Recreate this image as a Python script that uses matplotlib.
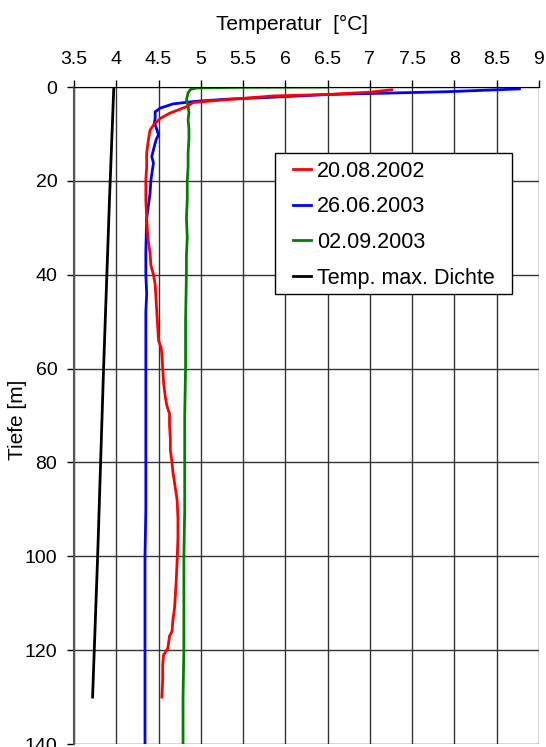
import numpy as np
import matplotlib.pyplot as plt
from matplotlib.patches import Rectangle

plt.rcParams['font.family'] = ['Liberation Sans', 'DejaVu Sans']

# Temperaturprofile (Tiefe in m, Temperatur in °C)
red_depth = [0.6, 1.1, 1.6, 1.9, 2.8, 3.3, 4.2, 5.6, 6.7, 8.1, 9.2, 11.3, 14.0, 17, 19.8, 24,
             28, 31, 33, 35.4, 38, 40, 42, 45, 48, 51, 54, 55.5, 57, 60, 63, 66, 68, 69.6,
             72, 75, 77.4, 80, 82, 84.4, 88, 92, 96, 101, 105, 108, 111, 113.6, 116, 117,
             119.6, 120.5, 121, 123, 126, 130]
red_temp = [7.26, 7.00, 6.49, 5.86, 5.23, 4.91, 4.83, 4.63, 4.52, 4.44, 4.40, 4.38, 4.36,
            4.36, 4.35, 4.35, 4.36, 4.37, 4.38, 4.40, 4.41, 4.44, 4.46, 4.47, 4.48, 4.49,
            4.50, 4.53, 4.54, 4.55, 4.56, 4.58, 4.60, 4.63, 4.63, 4.64, 4.64, 4.66, 4.67,
            4.69, 4.72, 4.73, 4.73, 4.72, 4.71, 4.70, 4.69, 4.67, 4.66, 4.63, 4.61, 4.58,
            4.56, 4.55, 4.55, 4.54]

blue_depth = [0.4, 1.0, 1.6, 2.2, 2.6, 3.1, 3.6, 4.5, 5.3, 6.7, 7.7, 8.5, 10.2, 11.3, 13.4,
              14.8, 16.2, 19.8, 22.6, 28, 35, 40, 44, 48, 60, 70, 80, 90, 100, 110, 120,
              130, 140]
blue_temp = [8.77, 7.91, 6.49, 5.82, 5.30, 4.91, 4.67, 4.52, 4.46, 4.46, 4.45, 4.47, 4.50,
             4.47, 4.44, 4.42, 4.44, 4.41, 4.40, 4.36, 4.35, 4.35, 4.36, 4.35, 4.35, 4.35,
             4.35, 4.35, 4.34, 4.34, 4.34, 4.34, 4.34]

green_depth = [0.0, 0.05, 0.2, 0.5, 1.2, 2.0, 2.8, 4.0, 5.5, 7.0, 9.0, 11, 14, 17, 20, 24,
               28, 32, 36, 40, 50, 60, 70, 80, 90, 100, 110, 120, 130, 140]
green_temp = [6.50, 5.50, 4.95, 4.88, 4.85, 4.84, 4.83, 4.85, 4.86, 4.85, 4.86, 4.86, 4.85,
              4.85, 4.84, 4.84, 4.83, 4.84, 4.83, 4.83, 4.82, 4.82, 4.81, 4.81, 4.81, 4.80,
              4.80, 4.80, 4.79, 4.79]

# Temperatur der max. Dichte
tmd_depth = [0.5, 24, 60, 100, 130]
tmd_temp = [3.97, 3.92, 3.85, 3.78, 3.72]

labels = ['20.08.2002', '26.06.2003', '02.09.2003', 'Temp. max. Dichte']
xticks = np.arange(3.5, 9.01, 0.5)
xticklabels = ['3.5', '4', '4.5', '5', '5.5', '6', '6.5', '7', '7.5', '8', '8.5', '9']
yticks = [0, 20, 40, 60, 80, 100, 120, 140]

fig = plt.figure(figsize=(5.46, 7.47), dpi=100)
ax = fig.add_axes([0.1355, 0.004, 0.8515, 0.8795])

ax.plot(blue_temp, blue_depth, color='#0000ff', lw=2.0, label=labels[1])
ax.plot(green_temp, green_depth, color='#008000', lw=2.0, label=labels[2])
ax.plot(red_temp, red_depth, color='#ff0000', lw=2.0, label=labels[0])
ax.plot(tmd_temp, tmd_depth, color='black', lw=2.0, label=labels[3])

ax.set_xlim(3.5, 9)
ax.set_ylim(140, 0)
ax.xaxis.tick_top()
ax.xaxis.set_label_position('top')
ax.set_xticks(xticks)
ax.set_xticklabels(xticklabels)
ax.set_yticks(yticks)
ax.tick_params(axis='x', length=5, width=1, pad=9, labelsize=14)
ax.tick_params(axis='y', length=5, width=1, pad=7, labelsize=14)
ax.set_xlabel('Temperatur  [°C]', fontsize=15)
ax.xaxis.set_label_coords(0.47, 1.087)
ax.set_ylabel('Tiefe [m]', fontsize=15)
ax.yaxis.set_label_coords(-0.101, 0.493)

ax.grid(True, color='#333333', lw=1.0)
ax.set_axisbelow(True)
for s in ['right', 'bottom']:
    ax.spines[s].set_visible(False)
ax.spines['left'].set_color('#555555')
ax.spines['left'].set_linewidth(1.5)

# Legendenrahmen separat, damit die Innenabstände passen
ax.add_patch(Rectangle((0.432, 0.685), 0.510, 0.2145, transform=ax.transAxes,
                       facecolor='white', edgecolor='black', lw=1.0, zorder=4))

h, l = ax.get_legend_handles_labels()
order = [2, 0, 1, 3]
leg = ax.legend([h[i] for i in order], [l[i] for i in order],
                loc='upper left', bbox_to_anchor=(0.471, 0.888), fontsize=15.5,
                frameon=False, handlelength=0.85, handletextpad=0.25,
                labelspacing=0.68, borderpad=0, borderaxespad=0)
leg.set_zorder(5)
for line in leg.get_lines():
    line.set_linewidth(2.0)

fig.savefig('out.png', dpi=100)
